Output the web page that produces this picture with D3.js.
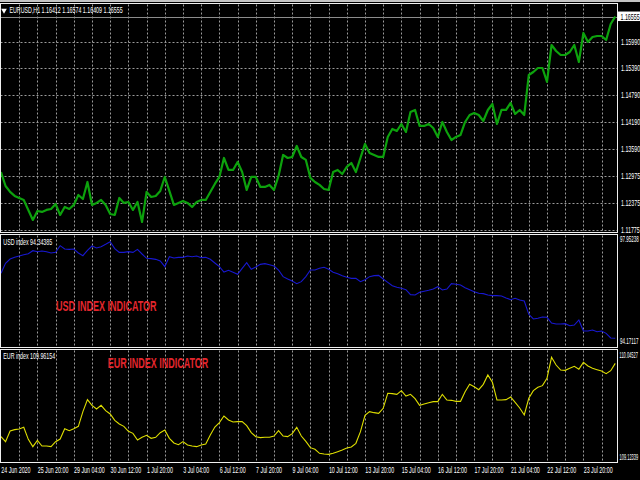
<!DOCTYPE html>
<html><head><meta charset="utf-8">
<script src="https://cdn.jsdelivr.net/npm/d3@7"></script>
<style>html,body{margin:0;padding:0;background:#000;overflow:hidden}</style>
</head><body><svg id="c" width="640" height="480"></svg>
<script>
// ---------------- DATA ----------------
const symbolTitle = "EURUSD,H1";
const ohlc = ["1.16412", "1.16574", "1.16409", "1.16555"];
const currentPrice = 1.16555;
const priceTicks = [1.15990, 1.15390, 1.14790, 1.14190, 1.13590, 1.12975, 1.12375, 1.11775];
const priceTickLabels = ["1.15990", "1.15390", "1.14790", "1.14190", "1.13590", "1.12975", "1.12375", "1.11775"];
const timeLabels = ["24 Jun 2020", "25 Jun 20:00", "29 Jun 04:00", "30 Jun 12:00", "1 Jul 20:00", "3 Jul 04:00",
  "6 Jul 12:00", "7 Jul 20:00", "9 Jul 04:00", "10 Jul 12:00", "13 Jul 20:00", "15 Jul 04:00",
  "16 Jul 12:00", "17 Jul 20:00", "21 Jul 04:00", "22 Jul 12:00", "23 Jul 20:00"];
const timeLabelBars = [0, 32, 64, 96, 128, 160, 192, 224, 256, 288, 320, 352, 384, 416, 448, 480, 512];
const sampleStepBars = 4; // hourly bars between samples

const eurusd = [
  1.13066,1.12752,1.12618,1.12528,1.12483,1.12438,1.12214,1.11989,1.12191,1.12169,
  1.12214,1.12236,1.12348,1.12101,1.12281,1.12236,1.12326,1.12550,1.12460,1.12842,
  1.12326,1.12371,1.12438,1.12326,1.12124,1.12101,1.12483,1.12371,1.12393,1.12214,
  1.12393,1.11944,1.12618,1.12505,1.12528,1.12640,1.12954,1.12640,1.12326,1.12371,
  1.12416,1.12371,1.12281,1.12393,1.12438,1.12438,1.12618,1.12797,1.12954,1.13380,
  1.13111,1.13111,1.13291,1.13066,1.12662,1.12954,1.12954,1.12730,1.12730,1.12775,
  1.12662,1.12977,1.13448,1.13380,1.13403,1.13650,1.13403,1.13336,1.12932,1.12842,
  1.12775,1.12685,1.12662,1.13066,1.13111,1.13021,1.13179,1.13268,1.13066,1.13380,
  1.13695,1.13493,1.13448,1.13403,1.13403,1.13852,1.14031,1.13986,1.14143,1.13964,
  1.14413,1.14458,1.14099,1.14099,1.14143,1.14054,1.13852,1.14188,1.13964,1.13784,
  1.13852,1.13897,1.14188,1.14345,1.14390,1.14345,1.14211,1.14458,1.14592,1.14143,
  1.14458,1.14458,1.14615,1.14368,1.14458,1.14345,1.15243,1.15310,1.15400,1.15400,
  1.15086,1.15916,1.15782,1.15692,1.15692,1.15759,1.15916,1.15535,1.16186,1.15984,
  1.16096,1.16118,1.16118,1.16028,1.16387,1.16555];

const usdTitle = "USD index 94.34385";
const usdScaleLabels = ["97.95238", "94.17117"];
const usdScaleValues = [97.95238, 94.17117];
const usdIndex = [
  96.680,97.040,97.196,97.256,97.304,97.352,97.388,97.496,97.460,97.484,
  97.460,97.412,97.436,97.676,97.556,97.544,97.556,97.412,97.316,97.508,
  97.664,97.592,97.640,97.724,97.820,97.568,97.436,97.436,97.460,97.436,
  97.544,97.376,97.220,97.208,97.184,97.124,96.920,97.280,97.232,97.256,
  97.256,97.304,97.280,97.304,97.244,97.256,97.184,97.052,96.920,96.728,
  96.788,96.716,96.644,96.860,97.064,96.824,96.908,97.004,97.028,96.992,
  96.944,96.800,96.560,96.476,96.404,96.308,96.380,96.560,96.800,96.800,
  96.860,96.896,96.824,96.716,96.668,96.596,96.536,96.500,96.500,96.380,
  96.452,96.560,96.596,96.608,96.476,96.356,96.236,96.176,96.140,96.092,
  95.912,95.900,95.996,96.032,96.068,96.116,96.200,96.080,96.116,96.308,
  96.284,96.260,96.164,96.092,96.020,95.960,95.948,95.900,95.876,95.876,
  95.864,95.792,95.732,95.780,95.720,95.684,95.204,95.036,95.060,95.108,
  95.096,94.892,94.855,94.855,94.868,94.795,94.819,95.000,94.603,94.603,
  94.639,94.579,94.603,94.519,94.351,94.34385];

const eurTitle = "EUR index 109.96154";
const eurScaleLabels = ["110.04527", "109.12339"];
const eurScaleValues = [110.04527, 109.12339];
const eurIndex = [
  109.3054,109.2607,109.3561,109.3681,109.3740,109.3890,109.2816,109.2159,109.2726,109.2219,
  109.2219,109.2159,109.2607,109.2845,109.3770,109.3591,109.3770,109.3979,109.5292,109.6366,
  109.5859,109.5530,109.5859,109.5381,109.5083,109.4516,109.4188,109.3979,109.3532,109.3353,
  109.2756,109.2995,109.3174,109.2905,109.2995,109.3412,109.3651,109.2905,109.2487,109.2338,
  109.2607,109.2308,109.2219,109.2159,109.2308,109.2398,109.3203,109.3919,109.4307,109.4904,
  109.4546,109.4367,109.4397,109.4397,109.4039,109.3412,109.3054,109.2965,109.2995,109.2995,
  109.3114,109.3591,109.3114,109.3054,109.3323,109.3890,109.3114,109.2637,109.2070,109.1920,
  109.1563,109.1503,109.1473,109.1563,109.1712,109.1861,109.2040,109.2129,109.2458,109.3502,
  109.4964,109.5292,109.5202,109.5143,109.5590,109.6933,109.6903,109.6843,109.7171,109.6694,
  109.6843,109.6455,109.5859,109.5978,109.6097,109.6187,109.6187,109.6843,109.6336,109.6306,
  109.6217,109.6217,109.7082,109.7738,109.7529,109.7261,109.7738,109.8573,109.7917,109.6336,
  109.6336,109.6366,109.6604,109.6127,109.5620,109.4993,109.6485,109.7171,109.7470,109.7619,
  109.8275,110.0155,109.9468,109.9021,109.8991,109.9170,109.9349,109.9081,109.9707,109.9379,
  109.9170,109.9051,109.8931,109.8693,109.8961,109.96154];

const usdCaption = "USD INDEX INDICATOR";
const eurCaption = "EUR INDEX INDICATOR";

// ---------------- LAYOUT ----------------
const svg = d3.select("#c");
const FONT = '"Liberation Sans", Arial, sans-serif';
const plotL = 0.5, plotR = 617.5;
const panes = {
  main: {top: 3.5, bottom: 232.5},
  usd: {top: 234.5, bottom: 347.5},
  eur: {top: 349.5, bottom: 462.5}
};
const pxPerBar = 1.1375;
const x = d3.scaleLinear().domain([0, 540]).range([1, 1 + 540 * pxPerBar]);
const yMain = d3.scaleLinear().domain([1.11775, 1.15990]).range([229.5, 41.7]);
const yUsd = d3.scaleLinear().domain([94.17117, 97.95238]).range([343, 238]);
const yEur = d3.scaleLinear().domain([109.12339, 110.04527]).range([457, 354]);
const gridBars = d3.range(16, 540, 16);

svg.append("rect").attr("width", 640).attr("height", 480).attr("fill", "#000");
svg.append("rect").attr("x", 0).attr("y", 0).attr("width", 640).attr("height", 2).attr("fill", "#c4c4c4");

function label(sel, px, py, str, o = {}) {
  const size = o.size || 9, sx = o.sx || 0.59;
  return sel.append("text")
    .attr("transform", `translate(${px},${py}) scale(${sx},1)`)
    .attr("font-size", size).attr("font-family", FONT)
    .attr("font-weight", o.weight || "normal")
    .attr("fill", o.fill || "#fff")
    .attr("dominant-baseline", "central")
    .attr("text-anchor", o.anchor || "start")
    .text(str);
}

const defs = svg.append("defs");
Object.entries(panes).forEach(([k, p]) => {
  defs.append("clipPath").attr("id", "clip-" + k).append("rect")
    .attr("x", plotL).attr("y", p.top).attr("width", plotR - plotL).attr("height", p.bottom - p.top);
});

const gridColor = "#9a9a9a";
Object.values(panes).forEach(p => {
  svg.append("g").selectAll("line").data(gridBars).join("line")
    .attr("x1", d => Math.round(x(d)) + 0.5).attr("x2", d => Math.round(x(d)) + 0.5)
    .attr("y1", p.top + 1).attr("y2", p.bottom)
    .attr("stroke", gridColor).attr("stroke-width", 1).attr("stroke-dasharray", "2,2");
});
svg.append("g").selectAll("line").data(priceTicks).join("line")
  .attr("x1", plotL).attr("x2", plotR)
  .attr("y1", d => Math.round(yMain(d)) + 0.5).attr("y2", d => Math.round(yMain(d)) + 0.5)
  .attr("stroke", gridColor).attr("stroke-width", 1).attr("stroke-dasharray", "2,2");

const cpY = Math.round(yMain(currentPrice)) + 0.5;
svg.append("line").attr("x1", plotL).attr("x2", plotR).attr("y1", cpY).attr("y2", cpY)
  .attr("stroke", "#8c8c8c").attr("stroke-width", 1);

const xi = (d, i) => x(i * sampleStepBars);
svg.append("path").datum(eurusd).attr("clip-path", "url(#clip-main)")
  .attr("d", d3.line().x(xi).y(d => yMain(d)))
  .attr("fill", "none").attr("stroke", "#0da20d").attr("stroke-width", 2.2).attr("stroke-linejoin", "round");
svg.append("path").datum(usdIndex).attr("clip-path", "url(#clip-usd)")
  .attr("d", d3.line().x(xi).y(d => yUsd(d)))
  .attr("fill", "none").attr("stroke", "#1818d0").attr("stroke-width", 1.1);
svg.append("path").datum(eurIndex).attr("clip-path", "url(#clip-eur)")
  .attr("d", d3.line().x(xi).y(d => yEur(d)))
  .attr("fill", "none").attr("stroke", "#dede00").attr("stroke-width", 1.1);

Object.values(panes).forEach(p => {
  svg.append("rect").attr("x", plotL).attr("y", p.top).attr("width", plotR - plotL).attr("height", p.bottom - p.top)
    .attr("fill", "none").attr("stroke", "#f0f0f0").attr("stroke-width", 1);
});

svg.append("path").attr("d", d3.symbol(d3.symbolTriangle, 14)())
  .attr("transform", "translate(4,10.5) rotate(180)").attr("fill", "#fff");
label(svg, 9.5, 10.3, symbolTitle + "  " + ohlc.join(" "));

priceTicks.forEach((v, i) => label(svg, 621, yMain(v), priceTickLabels[i]));
svg.append("rect").attr("x", 618).attr("y", yMain(currentPrice) - 5).attr("width", 22).attr("height", 9.5).attr("fill", "#fff");
label(svg, 620.5, yMain(currentPrice), currentPrice.toFixed(5), {fill: "#000"});

label(svg, 3.3, 242.3, usdTitle);
label(svg, 3.3, 356, eurTitle);
label(svg, 620, yUsd(usdScaleValues[0]) + 1.7, usdScaleLabels[0], {sx: 0.5});
label(svg, 620, yUsd(usdScaleValues[1]) - 1.3, usdScaleLabels[1], {sx: 0.5});
label(svg, 619.5, yEur(eurScaleValues[0]) + 1, eurScaleLabels[0], {sx: 0.44});
label(svg, 619.5, yEur(eurScaleValues[1]) - 0.3, eurScaleLabels[1], {sx: 0.44});

label(svg, 56, 306.5, usdCaption, {size: 15, sx: 0.6, weight: "bold", fill: "#e3262d"});
label(svg, 107.7, 363, eurCaption, {size: 15, sx: 0.6, weight: "bold", fill: "#e3262d"});

timeLabels.forEach((t, i) => label(svg, x(timeLabelBars[i]) + 0.3, 469.5, t));
</script></body></html>
